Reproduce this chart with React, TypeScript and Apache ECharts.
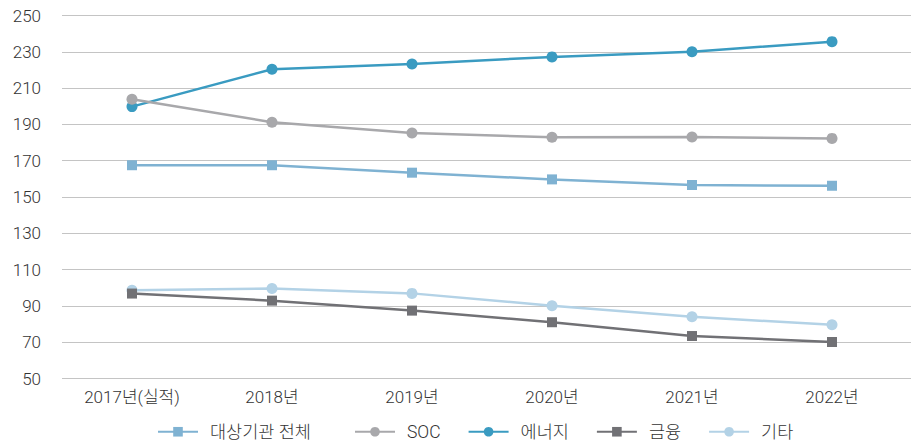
import React, { useEffect, useRef } from "react";
import * as echarts from "echarts";

const categories = ["2017년(실적)", "2018년", "2019년", "2020년", "2021년", "2022년"];
const yTicks = { min: 50, max: 250, interval: 20 };
const seriesNames = ["대상기관 전체", "SOC", "에너지", "금융", "기타"];
const totalAll = [167.5, 167.5, 163.4, 159.7, 156.6, 156.2];
const soc = [203.8, 191.2, 185.3, 182.9, 183.0, 182.3];
const energy = [199.8, 220.4, 223.3, 227.2, 230.0, 235.6];
const finance = [96.8, 92.9, 87.4, 81.0, 73.4, 70.1];
const others = [98.6, 99.6, 96.9, 90.1, 84.0, 79.6];

const colors = ["#7fb2d2", "#a8a8ab", "#3a9bc1", "#717175", "#b3d2e6"];
const symbols = ["rect", "circle", "circle", "rect", "circle"];
const dataSets = [totalAll, soc, energy, finance, others];

const FONT = "Roboto, 'Noto Sans CJK KR', sans-serif";

const legendBase = {
  top: 423,
  padding: 0,
  itemWidth: 40,
  itemHeight: 12,
  itemGap: 27,
  textStyle: {
    fontFamily: FONT,
    fontSize: 17.5,
    fontWeight: 300,
    color: "#333",
    padding: [0, 0, 0, 7],
  },
};

export default function App() {
  const ref = useRef<HTMLDivElement>(null);
  useEffect(() => {
    if (!ref.current) return;
    const chart = echarts.init(ref.current, null, { renderer: "svg" });
    chart.setOption({
      animation: false,
      backgroundColor: "#ffffff",
      legend: [
        { ...legendBase, left: 157, data: seriesNames.slice(0, 1) },
        { ...legendBase, left: 354, data: seriesNames.slice(1) },
      ],
      grid: [
        { left: 62, right: 0, top: 15.5, bottom: 68.5 },
        { left: 62, right: 9, top: 15.5, bottom: 68.5 },
      ],
      xAxis: [
        { type: "category", gridIndex: 0, data: categories, show: false },
        {
          type: "category",
          gridIndex: 1,
          data: categories,
          boundaryGap: true,
          axisLine: { show: false },
          axisTick: { show: false },
          axisLabel: { fontFamily: FONT, fontSize: 17, fontWeight: 300, color: "#333", margin: 10 },
        },
      ],
      yAxis: [
        {
          type: "value",
          gridIndex: 0,
          min: yTicks.min,
          max: yTicks.max,
          interval: yTicks.interval,
          axisLine: { show: false },
          axisTick: { show: false },
          axisLabel: { fontFamily: FONT, fontSize: 17, fontWeight: 300, color: "#333", margin: 21 },
          splitLine: { lineStyle: { color: "#c4c4c4", width: 1.2 } },
        },
        {
          type: "value",
          gridIndex: 1,
          min: yTicks.min,
          max: yTicks.max,
          interval: yTicks.interval,
          show: false,
          splitLine: { show: false },
        },
      ],
      series: seriesNames.map((name, i) => ({
        name,
        type: "line",
        xAxisIndex: 1,
        yAxisIndex: 1,
        data: dataSets[i],
        symbol: symbols[i],
        symbolSize: symbols[i] === "rect" ? 10 : 11,
        showSymbol: true,
        lineStyle: { color: colors[i], width: 2.5 },
        itemStyle: { color: colors[i] },
        z: 10 - i,
      })),
    });
    return () => chart.dispose();
  }, []);
  return (
    <div
      ref={ref}
      style={{ position: "fixed", left: 0, top: 0, width: 911, height: 447 }}
    />
  );
}
